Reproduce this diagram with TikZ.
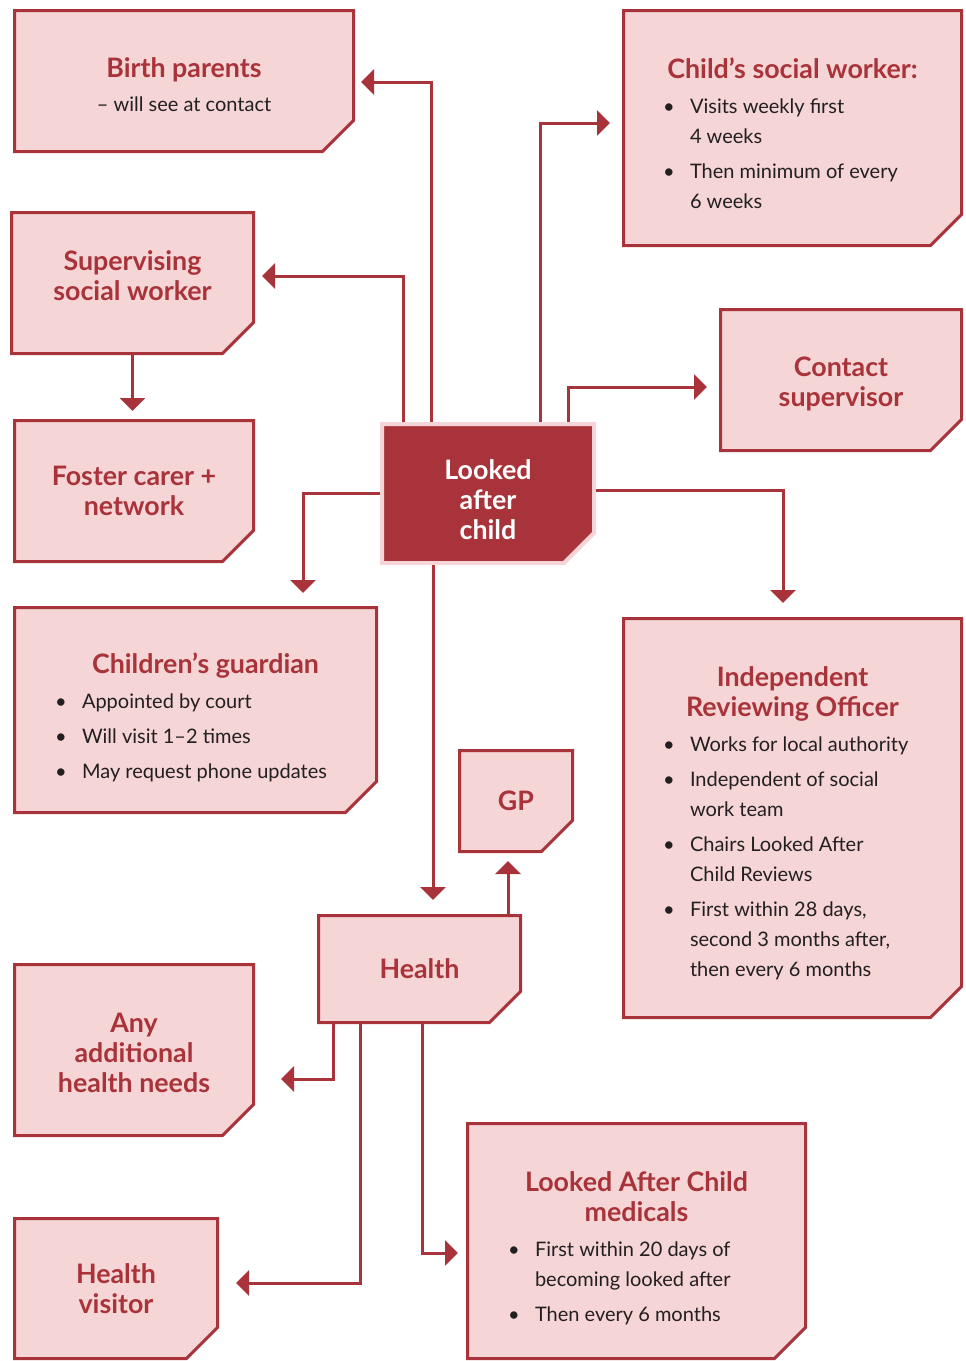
\documentclass[tikz,border=0pt]{standalone}
\usepackage{fontspec}
\setmainfont{Lato}
\usetikzlibrary{arrows.meta, calc, backgrounds}

\definecolor{darkred}{HTML}{A9333A}
\definecolor{palered}{HTML}{F5D5D5}
\definecolor{inktext}{HTML}{231F20}

\setlength{\parindent}{0pt}
\newcommand{\headfont}{\fontsize{13.4}{15}\selectfont\bfseries}
\newcommand{\bodyfont}{\fontsize{10}{15}\selectfont\mdseries\color{inktext}\lineskip=0pt}
\newcommand{\bulletline}[2]{\par\vspace{#1}\noindent\makebox[13.5pt][l]{\textbullet}\begin{tabular}[t]{@{}l@{}}#2\end{tabular}}

\begin{document}
\begin{tikzpicture}
	[
		x=0.5pt, y=-0.5pt,
		card/.style={inner sep=0pt, outer sep=0pt, text=darkred, font=\headfont, align=flush center},
		listcard/.style={card, align=flush left},
		outline/.style={draw=darkred, fill=palered, line width=1.5pt},
		link/.style={draw=darkred, line width=1.5pt, -{Triangle[length=6.5pt, width=12.5pt]}}
	]

	\useasboundingbox (0, 0) rectangle (965, 1361);

	% centre
	\node (lac)      at (488.0, 493.5) [card, text=white, text width=96pt, minimum width=106pt, minimum height=69.5pt]
		{Looked\\after\\child\par\vspace{-6pt}};

	% left column
	\node (birth)    at (184.0, 81.0) [card, text width=159pt, minimum width=169.5pt, minimum height=70.5pt]
		{Birth parents\\[2pt]{\bodyfont -- will see at contact}\par\vspace{-3.5pt}};
	\node (superv)   at (132.5, 283.0) [card, text width=111pt, minimum width=121pt, minimum height=70.5pt]
		{Supervising\\social worker\par\vspace{7pt}};
	\node (foster)   at (134.0, 491.0) [card, text width=109pt, minimum width=119.5pt, minimum height=70.5pt]
		{Foster carer +\\network};
	\node (guardian) at (195.5, 710.0) [listcard, text width=140.5pt, minimum width=181pt, minimum height=102.5pt]
		{{\centering\hspace*{10pt}Children’s guardian\par}
		 \bodyfont
		 \bulletline{2.5pt}{Appointed by court}
		 \bulletline{2.5pt}{Will visit 1–2 times}
		 \bulletline{2.5pt}{May request phone updates}\par\vspace{-10pt}};

	% right column
	\node (csw)      at (792.5, 128.0) [listcard, text width=129.5pt, minimum width=169pt, minimum height=117.5pt]
		{{\centering Child’s social worker:\par}
		 \bodyfont
		 \bulletline{2.5pt}{Visits weekly first\\4 weeks}
		 \bulletline{2.5pt}{Then minimum of every\\6 weeks}\par\vspace{-10pt}};
	\node (contact)  at (841.0, 380.0) [card, text width=110pt, minimum width=120.5pt, minimum height=70.5pt]
		{Contact\\supervisor\par\vspace{-4pt}};
	\node (iro)      at (792.5, 818.0) [listcard, text width=129.5pt, minimum width=169pt, minimum height=199.5pt]
		{{\centering Independent\\Reviewing Officer\par}
		 \bodyfont
		 \bulletline{2.5pt}{Works for local authority}
		 \bulletline{2.5pt}{Independent of social\\work team}
		 \bulletline{2.5pt}{Chairs Looked After\\Child Reviews}
		 \bulletline{2.5pt}{First within 28 days,\\second 3 months after,\\then every 6 months}\par\vspace{-8pt}};

	% health branch
	\node (gp)       at (516.0, 801.0) [card, text width=46pt, minimum width=56.5pt, minimum height=50.5pt]
		{GP\par\vspace{-2pt}};
	\node (health)   at (419.5, 969.0) [card, text width=91pt, minimum width=101pt, minimum height=53.5pt]
		{Health};
	\node (anyadd)   at (134.0, 1050.0) [card, text width=109pt, minimum width=119.5pt, minimum height=85.5pt]
		{Any\\additional\\health needs\par\vspace{-3pt}};
	\node (hvisitor) at (116.0, 1288.5) [card, text width=91pt, minimum width=101.5pt, minimum height=70pt]
		{Health\\visitor};
	\node (medicals) at (636.5, 1241.0) [listcard, text width=128.5pt, minimum width=169pt, minimum height=117.5pt]
		{{\centering Looked After Child\\medicals\par}
		 \bodyfont
		 \bulletline{2.5pt}{First within 20 days of\\becoming looked after}
		 \bulletline{2.5pt}{Then every 6 months}\par\vspace{-10pt}};

	% card outlines with the cut corner
	\begin{scope}[on background layer]
		\foreach \n in {birth, superv, foster, guardian, csw, contact, iro, gp, health, anyadd, hvisitor, medicals}
			\draw [outline] (\n.north west) -- (\n.north east) -- ([yshift=15.5pt]\n.south east)
				-- ([xshift=-15.5pt]\n.south east) -- (\n.south west) -- cycle;
		\draw [outline, fill=darkred, draw=palered, line width=2pt] (lac.north west) -- (lac.north east)
			-- ([yshift=15pt]lac.south east) -- ([xshift=-15pt]lac.south east) -- (lac.south west) -- cycle;
	\end{scope}

	\coordinate (lacfoot) at ($(lac.south west)+(51, 0)$);
	\coordinate (gpfoot)  at ($(health.north west)+(189.5, 0)$);

	\draw [link, shorten <=1pt, shorten >=3.75pt] ($(lac.north west)+(49, 0)$) |- ($(birth.east)+(0, 1)$);
	\draw [link, shorten <=1pt, shorten >=4.25pt] ($(lac.north west)+(21, 0)$) |- ($(superv.east)+(0, -7)$);
	\draw [link, shorten >=4.75pt] (superv.south) -- (superv.south |- foster.north);
	\draw [link, shorten <=1pt, shorten >=7.25pt] (lac.west) -| ($(guardian.north west)+(288.5, 0)$);
	\draw [link, shorten <=1pt, shorten >=6.75pt] ($(lac.north west)+(158, 0)$) |- ($(csw.west)+(0, -5)$);
	\draw [link, shorten <=1pt, shorten >=6.75pt] ($(lac.north west)+(186, 0)$) |- ($(contact.west)+(0, 7)$);
	\draw [link, shorten <=1pt, shorten >=7.75pt] ($(lac.east)+(0, -3.5)$) -| ($(iro.north)+(-9.5, 0)$);
	\draw [link, shorten <=1pt, shorten >=7.75pt] (lacfoot) -- (lacfoot |- health.north);

	\draw [link, shorten >=4.75pt] (gpfoot) -- (gpfoot |- gp.south);
	\draw [link, shorten >=13.75pt] ($(health.south west)+(14.5, 0)$) |- ($(anyadd.east)+(0, 29)$);
	\draw [link, shorten >=9.25pt] ($(health.south west)+(41.5, 0)$) |- ($(hvisitor.east)+(0, -5.5)$);
	\draw [link, shorten >=4.75pt] ($(health.south west)+(103.5, 0)$) |- ($(medicals.west)+(0, 12)$);
\end{tikzpicture}
\end{document}
